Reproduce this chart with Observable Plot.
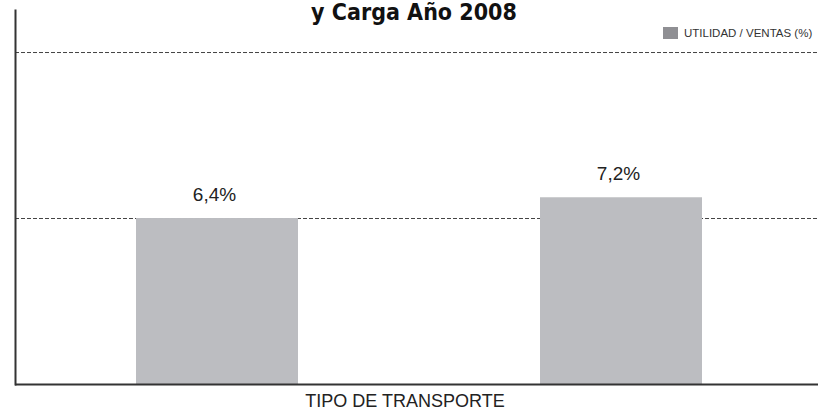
<!DOCTYPE html>
<html>
<head>
<meta charset="utf-8">
<script src="https://cdn.jsdelivr.net/npm/d3@7"></script>
<script src="https://cdn.jsdelivr.net/npm/@observablehq/plot@0.6"></script>
<style>
  html, body { margin: 0; padding: 0; background: #fff; overflow: hidden; }
  #wrap { position: relative; width: 824px; height: 411px; }
  #title { position: absolute; left: 0; width: 828px; top: 0px; text-align: center;
    font-family: "DejaVu Sans Condensed", "DejaVu Sans", sans-serif; font-weight: bold;
    font-size: 23px; line-height: 24px; color: #111; white-space: nowrap; }
  #legend { position: absolute; left: 663px; top: 27px; display: flex; align-items: center; white-space: nowrap;
    font-family: "Liberation Sans", Arial, sans-serif; font-size: 11.5px; color: #333; }
  #legend .sw { width: 15px; height: 12px; background: #8f8f93; margin-right: 6px; }
</style>
</head>
<body>
<div id="wrap">
  <div id="chart"></div>
  <div id="title">y Carga Año 2008</div>
  <div id="legend"><span class="sw"></span><span>UTILIDAD / VENTAS (%)</span></div>
</div>
<script>
const categories = ["PASAJEROS", "CARGA"];
const values = [6.4, 7.2];
const valueLabels = ["6,4%", "7,2%"];
const gridValues = [6.4, 12.8];
const xLabel = "TIPO DE TRANSPORTE";

const data = categories.map((c, i) => ({tipo: c, valor: values[i], label: valueLabels[i]}));

const chart = Plot.plot({
  width: 824,
  height: 411,
  marginTop: 10,
  marginBottom: 27,
  marginLeft: 15,
  marginRight: 6,
  x: {domain: categories, range: [15, 823], paddingInner: 0.6, paddingOuter: 0.3, axis: null},
  y: {domain: [0, 14.42], axis: null},
  style: {fontFamily: "'Liberation Sans', Arial, sans-serif", background: "white", color: "#222"},
  marks: [
    Plot.ruleY(gridValues, {stroke: "#444", strokeWidth: 1, strokeDasharray: "4,2"}),
    Plot.barY(data, {x: "tipo", y: "valor", fill: "#bcbdc1"}),
    Plot.text(data, {x: "tipo", y: "valor", text: "label", lineAnchor: "bottom", dy: -18, dx: -3, fontSize: 19, fill: "#222"}),
    Plot.ruleY([0], {stroke: "#333", strokeWidth: 2}),
    Plot.frame({anchor: "left", stroke: "#333", strokeWidth: 2}),
    Plot.text([xLabel], {text: d => d, frameAnchor: "bottom", lineAnchor: "top", dy: 10, dx: -12, fontSize: 18, fill: "#222"})
  ]
});
document.getElementById("chart").appendChild(chart);
</script>
</body>
</html>
